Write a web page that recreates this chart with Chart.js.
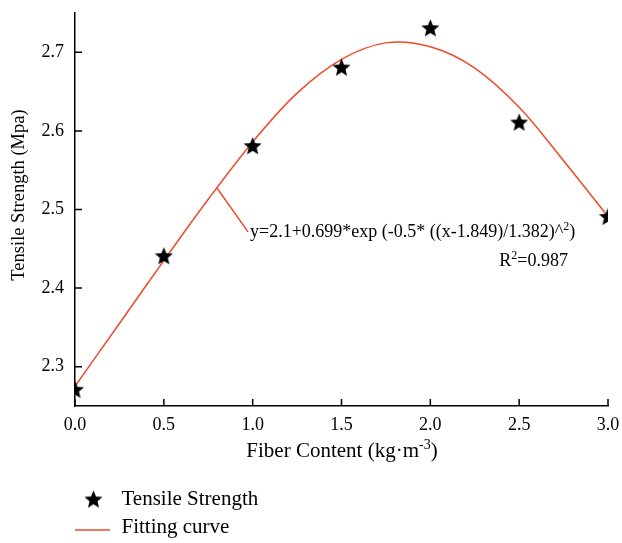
<!DOCTYPE html>
<html><head><meta charset="utf-8">
<script src="https://cdn.jsdelivr.net/npm/chart.js@4/dist/chart.umd.min.js"></script>
<style>html,body{margin:0;padding:0;background:#fff;}</style>
</head><body>
<canvas id="c" width="622" height="543"></canvas>
<script>
// ---- data ----
const fiberContent = [0, 0.5, 1.0, 1.5, 2.0, 2.5, 3.0];
const tensileStrength = [2.27, 2.44, 2.58, 2.68, 2.73, 2.61, 2.49];
const curveX = [0, 0.25, 0.5, 0.75, 1.0, 1.25, 1.5, 1.75, 2.0, 2.25, 2.5, 2.75, 3.0];
const curveY = [2.275, 2.355, 2.435, 2.513, 2.586, 2.648, 2.691, 2.712, 2.707, 2.680, 2.630, 2.562, 2.491];
const xTicks = [0, 0.5, 1.0, 1.5, 2.0, 2.5, 3.0];
const yTicks = [2.3, 2.4, 2.5, 2.6, 2.7];
const seriesNames = ['Tensile Strength', 'Fitting curve'];
const xTitleMain = 'Fiber Content (kg\u00b7m';
const xTitleSup = '-3';
const yTitle = 'Tensile Strength (Mpa)';
const eqMain = 'y=2.1+0.699*exp (-0.5* ((x-1.849)/1.382)^';
const eqSup = '2';
const eqEnd = ')';
const r2Label = ['R', '2', '=0.987'];

const RED = '#ee4a2b';
const FONT = 'Liberation Serif, Times New Roman, serif';

function makeStar(r) {
  const c = document.createElement('canvas');
  const s = Math.ceil(2 * r + 2);
  c.width = s; c.height = s;
  const g = c.getContext('2d');
  g.fillStyle = '#000';
  g.beginPath();
  for (let i = 0; i < 10; i++) {
    const rad = i % 2 === 0 ? r : r * 0.44;
    const a = -Math.PI / 2 + i * Math.PI / 5;
    const px = s / 2 + rad * Math.cos(a), py = s / 2 + rad * Math.sin(a);
    if (i === 0) g.moveTo(px, py); else g.lineTo(px, py);
  }
  g.closePath(); g.fill();
  return c;
}
const starImg = makeStar(9.5);

const decor = {
  id: 'decor',
  afterDraw(chart) {
    const ctx = chart.ctx, xs = chart.scales.x, ys = chart.scales.y, ca = chart.chartArea;
    ctx.save();
    // inward tick marks
    ctx.strokeStyle = '#000'; ctx.lineWidth = 1.5;
    ctx.beginPath();
    xTicks.forEach(v => { const p = xs.getPixelForValue(v); ctx.moveTo(p, ca.bottom); ctx.lineTo(p, ca.bottom - 7); });
    yTicks.forEach(v => { const p = ys.getPixelForValue(v); ctx.moveTo(ca.left, p); ctx.lineTo(ca.left + 7, p); });
    ctx.stroke();

    ctx.fillStyle = '#000';
    // y title
    ctx.save();
    ctx.translate(24, 195);
    ctx.rotate(-Math.PI / 2);
    ctx.font = '18.5px ' + FONT;
    ctx.textAlign = 'center'; ctx.textBaseline = 'alphabetic';
    ctx.fillText(yTitle, 0, 0);
    ctx.restore();

    // x title with superscript
    ctx.font = '21px ' + FONT;
    const wMain = ctx.measureText(xTitleMain).width;
    ctx.font = '14px ' + FONT;
    const wSup = ctx.measureText(xTitleSup).width;
    ctx.font = '21px ' + FONT;
    const wEnd = ctx.measureText(')').width;
    let x0 = 342 - (wMain + wSup + wEnd) / 2;
    const by = 457;
    ctx.textAlign = 'left'; ctx.textBaseline = 'alphabetic';
    ctx.fillText(xTitleMain, x0, by);
    ctx.font = '14px ' + FONT;
    ctx.fillText(xTitleSup, x0 + wMain, by - 8);
    ctx.font = '21px ' + FONT;
    ctx.fillText(')', x0 + wMain + wSup, by);

    // annotation leader line
    ctx.strokeStyle = RED; ctx.lineWidth = 1.5;
    ctx.beginPath();
    ctx.moveTo(xs.getPixelForValue(0.80), ys.getPixelForValue(2.527));
    ctx.lineTo(xs.getPixelForValue(0.974), ys.getPixelForValue(2.4716));
    ctx.stroke();

    // equation text
    ctx.font = '18px ' + FONT;
    const ex = 250, ey = 237;
    ctx.fillText(eqMain, ex, ey);
    const w1 = ctx.measureText(eqMain).width;
    ctx.font = '12px ' + FONT;
    ctx.fillText(eqSup, ex + w1, ey - 7);
    const w2 = ctx.measureText(eqSup).width;
    ctx.font = '18px ' + FONT;
    ctx.fillText(eqEnd, ex + w1 + w2, ey);

    // R^2 (right aligned at 568)
    ctx.font = '18px ' + FONT;
    const wr = ctx.measureText(r2Label[0]).width, we = ctx.measureText(r2Label[2]).width;
    ctx.font = '12px ' + FONT;
    const ws = ctx.measureText(r2Label[1]).width;
    const rx = 568 - (wr + ws + we), ry = 266;
    ctx.font = '18px ' + FONT;
    ctx.fillText(r2Label[0], rx, ry);
    ctx.font = '12px ' + FONT;
    ctx.fillText(r2Label[1], rx + wr, ry - 7);
    ctx.font = '18px ' + FONT;
    ctx.fillText(r2Label[2], rx + wr + ws, ry);

    // legend
    ctx.drawImage(starImg, 93.5 - starImg.width / 2, 500 - starImg.height / 2);
    ctx.font = '21px ' + FONT;
    ctx.fillText(seriesNames[0], 121.5, 505);
    ctx.strokeStyle = RED; ctx.lineWidth = 1.5;
    ctx.beginPath(); ctx.moveTo(75, 530); ctx.lineTo(110, 530); ctx.stroke();
    ctx.fillText(seriesNames[1], 121.5, 533);
    ctx.restore();
  }
};

new Chart(document.getElementById('c'), {
  type: 'scatter',
  data: {
    datasets: [
      {
        label: seriesNames[0],
        data: fiberContent.map((x, i) => ({ x: x, y: tensileStrength[i] })),
        pointStyle: starImg,
        pointRadius: 9,
        showLine: false,
        clip: 0
      },
      {
        label: seriesNames[1],
        data: curveX.map((x, i) => ({ x: x, y: curveY[i] })),
        showLine: true,
        borderColor: RED,
        borderWidth: 1.5,
        pointRadius: 0,
        tension: 0.33,
        fill: false,
        clip: 0
      }
    ]
  },
  options: {
    responsive: false,
    animation: false,
    devicePixelRatio: 1,
    layout: { padding: { left: 0, right: 14, top: 13, bottom: 107 } },
    plugins: { legend: { display: false }, tooltip: { enabled: false } },
    scales: {
      x: {
        type: 'linear', min: 0, max: 3,
        afterBuildTicks: s => { s.ticks = xTicks.map(v => ({ value: v })); },
        afterFit: s => { s.height = 30; s.paddingLeft = 0; s.paddingRight = 0; },
        grid: { display: false, drawTicks: false },
        border: { display: true, color: '#000', width: 1.5 },
        ticks: { padding: 8, color: '#000', font: { family: FONT, size: 18 }, maxRotation: 0, autoSkip: false,
                 callback: v => Number(v).toFixed(1) }
      },
      y: {
        type: 'linear', min: 2.25, max: 2.75,
        afterBuildTicks: s => { s.ticks = yTicks.map(v => ({ value: v })); },
        afterFit: s => { s.width = 75; s.paddingTop = 0; s.paddingBottom = 0; },
        grid: { display: false, drawTicks: false },
        border: { display: true, color: '#000', width: 1.5 },
        ticks: { padding: 11, color: '#000', font: { family: FONT, size: 18 }, autoSkip: false,
                 callback: v => Number(v).toFixed(1) }
      }
    }
  },
  plugins: [decor]
});
</script>
</body></html>
